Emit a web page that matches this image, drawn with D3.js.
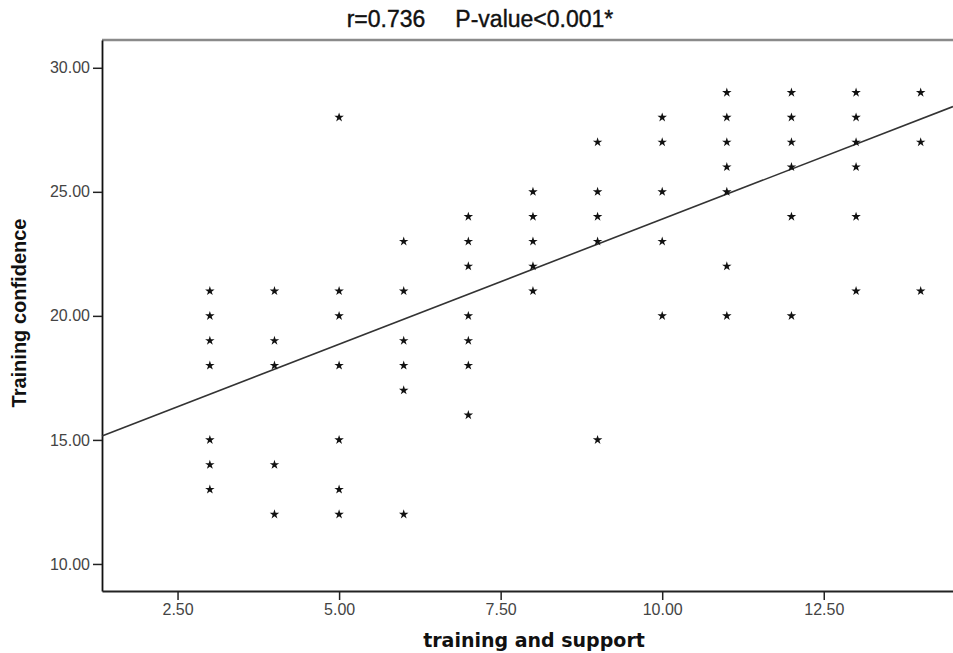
<!DOCTYPE html>
<html>
<head>
<meta charset="utf-8">
<title>Training confidence vs training and support</title>
<script src="https://d3js.org/d3.v7.min.js"></script>
<style>
  body { margin: 0; background: #fff; }
  .tick text { font-family: "Liberation Sans", Arial, sans-serif; font-size: 16px; fill: #444; }
  .tick line { stroke: #222; stroke-width: 1.5; }
</style>
</head>
<body>
<div id="chart"></div>
<script>
// training and support score, and the training confidence values found at each score
const supportScores = [3, 4, 5, 6, 7, 8, 9, 10, 11, 12, 13, 14];
const confidenceByScore = [
    [21, 20, 19, 18, 15, 14, 13],
    [21, 19, 18, 14, 12],
    [28, 21, 20, 18, 15, 13, 12],
    [23, 21, 19, 18, 17, 12],
    [24, 23, 22, 20, 19, 18, 16],
    [25, 24, 23, 22, 21],
    [27, 25, 24, 23, 15],
    [28, 27, 25, 23, 20],
    [29, 28, 27, 26, 25, 22, 20],
    [29, 28, 27, 26, 24, 20],
    [29, 28, 27, 26, 24, 21],
    [29, 27, 21]
];
// fitted line: confidence = intercept + slope * support
const fitIntercept = 13.82;
const fitSlope = 1.008;

const xTicks = [2.5, 5, 7.5, 10, 12.5];
const yTicks = [10, 15, 20, 25, 30];
const titleParts = ["r=0.736", "P-value<0.001*"];

const W = 953, H = 653;
const plotLeft = 102, plotRight = 953, plotTop = 40, plotBottom = 591;

let points = [];
supportScores.forEach(function (s, i) {
    confidenceByScore[i].forEach(function (c) {
        points.push({ x: s, y: c });
    });
});

let x = d3.scaleLinear().domain([1.331, 14.5]).range([plotLeft, plotRight]);
let y = d3.scaleLinear().domain([8.91, 31.12]).range([plotBottom, plotTop]);

let svg = d3.select("#chart")
    .append("svg")
    .attr("width", W)
    .attr("height", H);

// frame top border
svg.append("line")
    .attr("x1", plotLeft).attr("x2", plotRight)
    .attr("y1", plotTop).attr("y2", plotTop)
    .attr("stroke", "#8a8a8a")
    .attr("stroke-width", 2.5);

// axes
let yAxis = svg.append("g")
    .attr("transform", "translate(" + plotLeft + ",0)")
    .call(d3.axisLeft(y).tickValues(yTicks).tickFormat(d3.format(".2f")).tickSize(9).tickSizeOuter(0).tickPadding(3));
yAxis.select(".domain").attr("stroke", "#111").attr("stroke-width", 1.8);

let xAxis = svg.append("g")
    .attr("transform", "translate(0," + plotBottom + ")")
    .call(d3.axisBottom(x).tickValues(xTicks).tickFormat(d3.format(".2f")).tickSize(9).tickSizeOuter(0).tickPadding(4));
xAxis.select(".domain").attr("stroke", "#222").attr("stroke-width", 2);

// fit line
let xd = x.domain();
svg.append("path")
    .datum(xd)
    .attr("fill", "none")
    .attr("stroke", "#333")
    .attr("stroke-width", 1.6)
    .attr("d", d3.line()
        .x(function (d) { return x(d); })
        .y(function (d) { return y(fitIntercept + fitSlope * d); })
    );

// star markers
svg.selectAll(".pt")
    .data(points)
    .enter()
    .append("path")
    .attr("class", "pt")
    .attr("transform", function (d) { return "translate(" + x(d.x) + "," + y(d.y) + ")"; })
    .attr("d", d3.symbol().type(d3.symbolStar).size(28))
    .attr("fill", "#111");

// title
let title = svg.append("text")
    .attr("x", 480)
    .attr("y", 27)
    .attr("text-anchor", "middle")
    .attr("font-family", "Liberation Sans, Arial, sans-serif")
    .attr("font-size", 23)
    .attr("fill", "#111")
    .attr("stroke", "#111")
    .attr("stroke-width", 0.4);
title.append("tspan").text(titleParts[0]);
title.append("tspan").attr("dx", 30).text(titleParts[1]);

// axis titles
svg.append("text")
    .attr("x", 534)
    .attr("y", 647)
    .attr("text-anchor", "middle")
    .attr("font-family", "DejaVu Sans, Verdana, sans-serif")
    .attr("font-weight", "bold")
    .attr("font-size", 19)
    .attr("fill", "#111")
    .text("training and support");

svg.append("text")
    .attr("transform", "translate(26,313) rotate(-90)")
    .attr("text-anchor", "middle")
    .attr("font-family", "Liberation Sans, Arial, sans-serif")
    .attr("font-weight", "bold")
    .attr("font-size", 20)
    .attr("fill", "#111")
    .text("Training confidence");
</script>
</body>
</html>
